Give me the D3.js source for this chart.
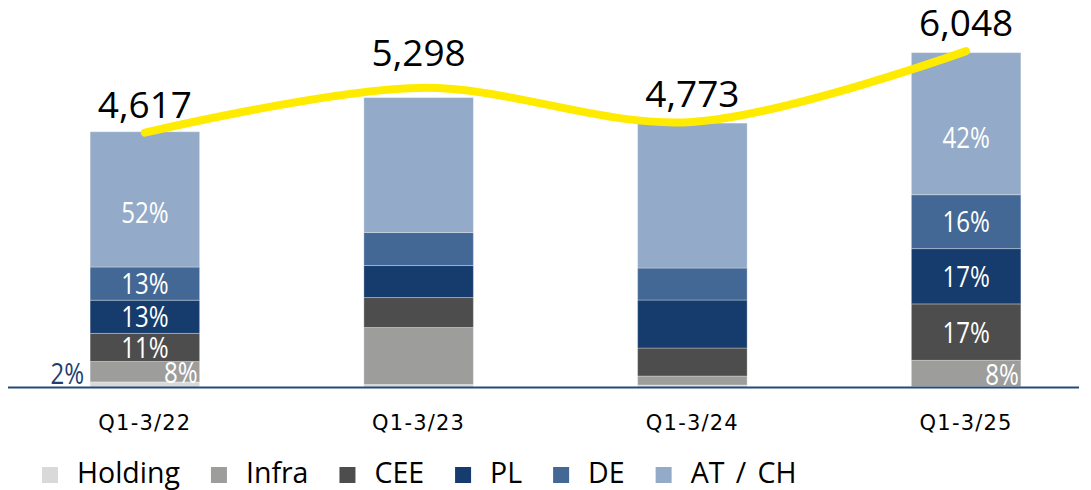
<!DOCTYPE html>
<html>
<head>
<meta charset="utf-8">
<script src="https://cdn.jsdelivr.net/npm/d3@7"></script>
<style>
  body { margin: 0; background: #fff; }
  svg { display: block; }
  text { font-family: "Open Sans", sans-serif; }
</style>
</head>
<body>
<div id="chart"></div>
<script>
// Revenue by segment, stacked, with total trend line

var categories = ["Q1-3/22", "Q1-3/23", "Q1-3/24", "Q1-3/25"];
var segmentNames = ["Holding", "Infra", "CEE", "PL", "DE", "AT / CH"];

// segment values, bottom to top
var holding = [92, 45, 36, 8];
var infra   = [370, 1031, 163, 475];
var cee     = [508, 542, 506, 1020];
var pl      = [600, 579, 868, 1000];
var de      = [600, 597, 579, 975];
var atch    = [2447, 2441, 2621, 2570];

var totals = [4617, 5298, 4773, 6048];
var trend  = [4600, 5410, 4795, 6075];

// share labels shown in the bars ("" = not shown)
var holdingLbl = ["2%", "", "", ""];
var infraLbl   = ["8%", "", "", "8%"];
var ceeLbl     = ["11%", "", "", "17%"];
var plLbl      = ["13%", "", "", "17%"];
var deLbl      = ["13%", "", "", "16%"];
var atchLbl    = ["52%", "", "", "42%"];

var colors = ["#d9d9d9", "#9d9d9c", "#4d4d4d", "#153c6d", "#446896", "#93aac8"];

var WIDTH = 1091, HEIGHT = 490;

var svg = d3.select("#chart").append("svg")
    .attr("width", WIDTH)
    .attr("height", HEIGHT);

var series = [holding, infra, cee, pl, de, atch];
var labels = [holdingLbl, infraLbl, ceeLbl, plLbl, deLbl, atchLbl];

var table = categories.map(function(c, i) {
  var row = {cat: c};
  segmentNames.forEach(function(s, k) { row[s] = series[k][i]; });
  return row;
});

var stack = d3.stack().keys(segmentNames)(table);

var x = d3.scaleBand()
    .domain(categories)
    .range([8, 1103])
    .paddingInner(0.6)
    .paddingOuter(0.3);

var y = d3.scaleLinear()
    .domain([0, 7000])
    .range([387, 0]);

// bars
var layers = svg.append("g").selectAll("g")
    .data(stack)
    .enter().append("g")
    .attr("fill", function(d, k) { return colors[k]; });

layers.selectAll("rect")
    .data(function(d) { return d; })
    .enter().append("rect")
    .attr("x", function(d) { return x(d.data.cat); })
    .attr("y", function(d) { return y(d[1]); })
    .attr("width", x.bandwidth())
    .attr("height", function(d) { return y(d[0]) - y(d[1]); })
    .attr("stroke", "#ffffff")
    .attr("stroke-opacity", 0.3)
    .attr("stroke-width", 1);

// axis line
svg.append("line")
    .attr("x1", 8).attr("x2", 1079)
    .attr("y1", y(0) + 0.5).attr("y2", y(0) + 0.5)
    .attr("stroke", "#264a78")
    .attr("stroke-width", 2);

// category labels
svg.append("g").selectAll("text")
    .data(categories)
    .enter().append("text")
    .attr("x", function(d) { return x(d) + x.bandwidth() / 2; })
    .attr("y", 430)
    .attr("text-anchor", "middle")
    .style("font-family", "'DejaVu Sans', sans-serif")
    .style("font-size", "21px")
    .style("letter-spacing", "1.2px")
    .attr("fill", "#000")
    .text(function(d) { return d; });

// share labels
var pctG = svg.append("g");
stack.forEach(function(layer, k) {
  layer.forEach(function(d, i) {
    var t = labels[k][i];
    if (!t) return;
    var x0 = x(d.data.cat), x1 = x0 + x.bandwidth();
    var top = y(d[1]), bot = y(d[0]);
    var px, py, anchor = "middle", fill = "#ffffff";
    if (k === 0) {            // holding: outside, left of the bar
      px = x0 - 6; py = y(d[1] + infra[i] / 2) + 2; anchor = "end"; fill = "#1f3f70";
    } else if (k === 1) {     // infra: right aligned inside
      px = x1 - 2; py = (top + bot) / 2 + 1; anchor = "end";
    } else if (k === segmentNames.length - 1) {
      px = (x0 + x1) / 2; py = top + (bot - top) * 0.6;
    } else {
      px = (x0 + x1) / 2; py = (top + bot) / 2;
    }
    pctG.append("text")
      .attr("transform", "translate(" + px + "," + py + ") scale(0.83,1)")
      .attr("dy", "0.36em")
      .attr("text-anchor", anchor)
      .style("font-size", "29px")
      .attr("fill", fill)
      .text(t);
  });
});

// trend line
var line = d3.line()
    .x(function(d, i) { return x(categories[i]) + x.bandwidth() / 2; })
    .y(function(d) { return y(d); })
    .curve(d3.curveCatmullRom.alpha(0.5));

svg.append("path")
    .datum(trend)
    .attr("d", line)
    .attr("fill", "none")
    .attr("stroke", "#ffeb00")
    .attr("stroke-width", 8)
    .attr("stroke-linecap", "round");

// totals, sitting just above the trend line
svg.append("g").selectAll("text")
    .data(totals)
    .enter().append("text")
    .attr("x", function(d, i) { return x(categories[i]) + x.bandwidth() / 2; })
    .attr("y", function(d, i) { return y(trend[i]) - (i === 1 ? 22 : 15); })
    .attr("text-anchor", "middle")
    .style("font-size", "37px")
    .attr("fill", "#000")
    .text(function(d) { return d3.format(",")(d); });

// legend
var lg = svg.append("g");
var lx = 42;
segmentNames.forEach(function(s, k) {
  lg.append("rect")
    .attr("x", lx).attr("y", 467)
    .attr("width", 16).attr("height", 16)
    .attr("fill", colors[k]);
  var t = lg.append("text")
    .attr("x", lx + 35).attr("y", 483)
    .style("font-size", "28.5px")
    .style("word-spacing", "4px")
    .attr("fill", "#000")
    .text(s);
  lx += 35 + t.node().getComputedTextLength() + 31;
});
</script>
</body>
</html>
